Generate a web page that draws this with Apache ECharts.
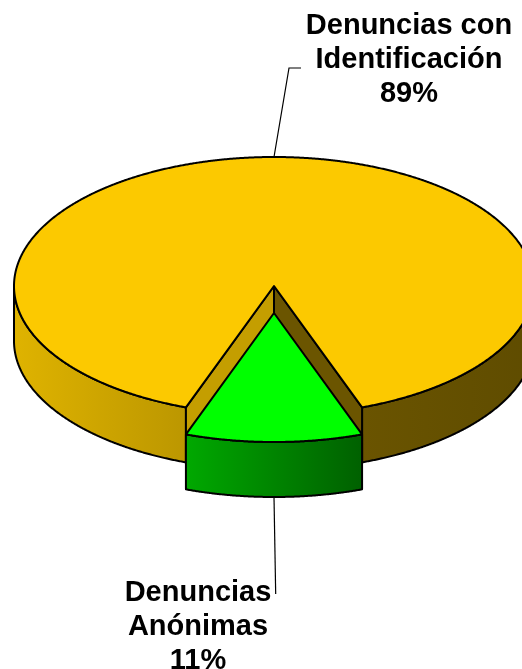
<!DOCTYPE html>
<html>
<head>
<meta charset="utf-8">
<style>html,body{margin:0;padding:0;background:#fff}#c{width:522px;height:669px}</style>
<script src="https://cdn.jsdelivr.net/npm/echarts@6/dist/echarts.min.js"></script>
</head>
<body>
<div id="c"></div>
<script>
var categories = ['Denuncias con\nIdentificación', 'Denuncias\nAnónimas'];
var values = [89, 11];
var percentLabels = ['89%', '11%'];
var topColors = ['#FCC900', '#00FF00'];

var chart = echarts.init(document.getElementById('c'), null, {renderer: 'canvas'});
var total = values[0] + values[1];
var cx = 274, cy = 286, rx = 260, ry = 129, depth = 55, explode = 27;
var wedgeSpan = values[1] / total * 360;
var a0 = 90 + wedgeSpan / 2, a1 = a0 + values[0] / total * 360;
var stroke = {stroke: '#000', lineWidth: 2, lineJoin: 'round'};

function pt(a, ox, oy) {
  var r = a * Math.PI / 180;
  return [ox + rx * Math.cos(r), oy + ry * Math.sin(r)];
}
function arc(from, to, ox, oy) {
  var out = [], n = Math.max(2, Math.ceil(Math.abs(to - from) * 4));
  for (var i = 0; i <= n; i++) out.push(pt(from + (to - from) * i / n, ox, oy));
  return out;
}
function poly(points, fill) {
  return {type: 'polygon', shape: {points: points}, silent: true,
    style: Object.assign({fill: fill}, stroke)};
}
function wall(from, to, oy, fill) {
  return poly(arc(from, to, cx, oy).concat(arc(to, from, cx, oy + depth)), fill);
}
function hGrad(stops) {
  return new echarts.graphic.LinearGradient(stops.x0, 0, stops.x1, 0, stops.c, true);
}
var goldLeft = hGrad({x0: 14, x1: 185, c: [{offset: 0, color: '#DFB300'}, {offset: 1, color: '#BC9700'}]});
var goldRight = hGrad({x0: 363, x1: 533, c: [{offset: 0, color: '#6A5400'}, {offset: 1, color: '#5F4C00'}]});
var greenFront = hGrad({x0: 185, x1: 363, c: [{offset: 0, color: '#00A900'}, {offset: 1, color: '#006000'}]});

function label(text, x, y) {
  return {type: 'text', silent: true, x: x, y: y,
    style: {text: text, fill: '#000', align: 'center', verticalAlign: 'top',
      font: 'bold 29px "Liberation Sans", Arial, sans-serif', lineHeight: 34}};
}
function leader(points) {
  return {type: 'polyline', silent: true, shape: {points: points},
    style: {fill: null, stroke: '#000', lineWidth: 1.2}};
}

function renderItem(params, api) {
  var i = params.dataIndex, children;
  if (i === 0) {
    var cA = pt(a0, cx, cy), cB = pt(a1, cx, cy);
    children = [
      wall(a0, 180, cy, goldLeft),
      wall(360, a1, cy, goldRight),
      poly([[cx, cy], cA, [cA[0], cA[1] + depth], [cx, cy + depth]], '#C49E00'),
      poly([[cx, cy], cB, [cB[0], cB[1] + depth], [cx, cy + depth]], '#6B5500'),
      poly([[cx, cy]].concat(arc(a0, a1, cx, cy)), topColors[0]),
      leader([[cx, cy - ry], [289, 68], [301, 68]]),
      label(categories[0] + '\n' + percentLabels[0], 409, 9)
    ];
  } else {
    var oy = cy + explode;
    children = [
      wall(a1 - 360, a0, oy, greenFront),
      poly([[cx, oy]].concat(arc(a1 - 360, a0, cx, oy)), topColors[1]),
      leader([[cx, oy + ry + depth], [275.7, 594]]),
      label(categories[1] + '\n' + percentLabels[1], 198, 576)
    ];
  }
  return {type: 'group', children: children};
}

chart.setOption({
  backgroundColor: '#fff',
  animation: false,
  series: [{
    type: 'custom',
    coordinateSystem: 'none',
    clip: false,
    silent: true,
    renderItem: renderItem,
    data: categories.map(function (c, i) { return {name: c, value: values[i]}; })
  }]
});
</script>
</body>
</html>
